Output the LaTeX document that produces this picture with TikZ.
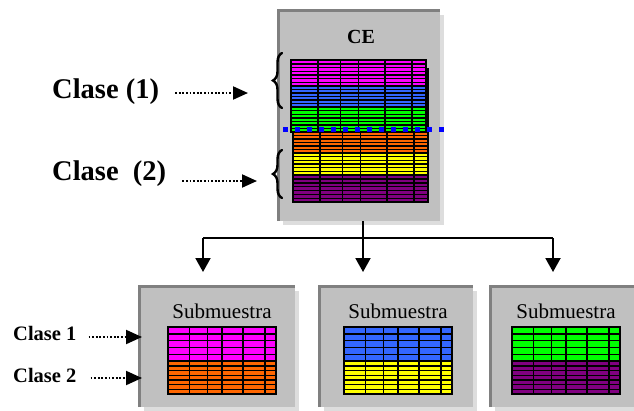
\documentclass[tikz,border=0pt]{standalone}
\usepackage{fontspec}
\setmainfont{Liberation Serif}
\usetikzlibrary{arrows.meta,decorations.pathreplacing,shadows}

\definecolor{panelgray}{HTML}{C0C0C0}
\definecolor{rimgray}{HTML}{808080}
\definecolor{shadegray}{HTML}{DDDDDD}
\definecolor{cmag}{HTML}{FF00FF}
\definecolor{cblue}{HTML}{3366FF}
\definecolor{cgreen}{HTML}{00FF00}
\definecolor{corange}{HTML}{FF6600}
\definecolor{cyellow}{HTML}{FFFF00}
\definecolor{cpurple}{HTML}{800080}
\definecolor{dotblue}{HTML}{0000FF}

% one coloured band of thin stripes: x1, y1, x2, y2, colour, number of stripes
\newcommand{\stripeband}[6]{%
  \fill[black] (#1,#2) rectangle (#3,#4);
  \pgfmathsetmacro{\bandstep}{(#4-#2)/#6}
  \foreach \k in {1,...,#6}{
    \fill[#5] (#1,{#2+(\k-1)*\bandstep+0.8}) rectangle (#3,{#2+\k*\bandstep-0.6});
  }
}
% column rules and outer frame of a table: x1, y1, x2, y2
\newcommand{\gridframe}[4]{%
  \foreach \f in {0.2,0.367,0.5,0.696,0.897}{
    \draw[black, line width=1.6pt] ({#1+\f*(#3-#1)},#2) -- ({#1+\f*(#3-#1)},#4);
  }
  \draw[black, line width=1.6pt] (#1,#2) rectangle (#3,#4);
}

\tikzset{
  panel/.style={fill=panelgray, draw=none, inner sep=0pt,
    drop shadow={shadow xshift=4pt, shadow yshift=-4pt, fill=shadegray, opacity=1}},
  rim/.style={rimgray, line width=3pt},
  bigclass/.style={font=\bfseries\fontsize{28.5}{30}\selectfont, inner sep=0pt, anchor=base west},
  smallclass/.style={font=\bfseries\fontsize{20.5}{23}\selectfont, inner sep=0pt, anchor=base west},
  subtitle/.style={font=\fontsize{21}{24}\selectfont, inner sep=0pt, anchor=base},
  dotarrow/.style={black, line width=2pt, dash pattern=on 1.8pt off 1.8pt,
    -{Triangle[length=15pt,width=13pt]}},
  treeline/.style={black, line width=2pt},
  treearrow/.style={treeline, -{Triangle[length=14pt,width=15pt]}},
  classbrace/.style={decorate, decoration={brace, amplitude=9pt}, line width=2.4pt, line cap=round},
  cutline/.style={dotblue, line width=5pt, dash pattern=on 5pt off 7pt}
}

\begin{document}
\begin{tikzpicture}[x=1pt, y=-1pt]
\useasboundingbox (0,0) rectangle (634,410);
\clip (0,0) rectangle (634,410);

% ---------- population box ----------
\node[panel, minimum width=161pt, minimum height=210pt] (ce) at (359.5,116) {};
\draw[rim] (ce.south west) -- (ce.north west) -- (ce.north east);
\node[font=\bfseries\fontsize{20}{22}\selectfont, inner sep=0pt, anchor=base] (cetitle) at (361,43) {CE};

% upper group of strata
\draw[black, line width=1.5pt] (428,68) -- (428,132);
\stripeband{291}{60}{426}{86}{cmag}{7}
\stripeband{291}{86}{426}{107}{cblue}{6}
\stripeband{291}{107}{426}{132}{cgreen}{7}
\gridframe{291}{60}{426}{132}
% lower group of strata
\stripeband{293}{132}{428}{153}{corange}{6}
\stripeband{293}{153}{428}{175}{cyellow}{6}
\stripeband{293}{175}{428}{202}{cpurple}{7}
\gridframe{293}{132}{428}{202}

% dividing line between the two classes
\coordinate (cutw) at (283,129.5);
\coordinate (cute) at (447,129.5);
\draw[cutline] (cutw) -- (cute);

% braces
\coordinate (b1lo) at (282,108);
\coordinate (b1hi) at (282,53);
\coordinate (b2lo) at (282,198);
\coordinate (b2hi) at (282,150);
\draw[classbrace] (b1lo) -- (b1hi);
\draw[classbrace] (b2lo) -- (b2hi);

% class labels
\node[bigclass] (c1) at (52,98) {Clase (1)};
\node[bigclass] (c2) at (52,180) {Clase\ \ (2)};
\coordinate (tip1) at (248,93);
\coordinate (tip2) at (257,181);
\draw[dotarrow, shorten <=16pt] (c1.east |- tip1) -- (tip1);
\draw[dotarrow, shorten <=16pt] (c2.east |- tip2) -- (tip2);

% ---------- subsamples ----------
\node[panel, minimum width=155pt, minimum height=120pt] (s1) at (217.5,347) {};
\node[panel, minimum width=153pt, minimum height=120pt] (s2) at (396.5,347) {};
\node[panel, minimum width=154pt, minimum height=120pt] (s3) at (568,347) {};
\foreach \s in {s1,s2,s3}{
  \draw[rim] (\s.south west) -- (\s.north west) -- (\s.north east);
}
\node[subtitle] (s1t) at (222,318) {Submuestra};
\node[subtitle] (s2t) at (398,318) {Submuestra};
\node[subtitle] (s3t) at (566,318) {Submuestra};

\stripeband{168}{327}{276}{361}{cmag}{5}
\stripeband{168}{361}{276}{394}{corange}{7}
\gridframe{168}{327}{276}{394}

\stripeband{344}{327}{452}{361}{cblue}{5}
\stripeband{344}{361}{452}{394}{cyellow}{7}
\gridframe{344}{327}{452}{394}

\stripeband{512}{327}{620}{361}{cgreen}{5}
\stripeband{512}{361}{620}{394}{cpurple}{7}
\gridframe{512}{327}{620}{394}

% ---------- tree connector ----------
\coordinate (j1) at (203,238);
\coordinate (j2) at (363,238);
\coordinate (j3) at (553,238);
\coordinate (t1) at (203,272);
\coordinate (t2) at (363,272);
\coordinate (t3) at (553,272);
\draw[treeline] (j1) -- (j3);
\draw[treearrow] (ce.south -| t2) -- (t2);
\draw[treearrow] (j1) -- (t1);
\draw[treearrow] (j3) -- (t3);

% ---------- subsample class labels ----------
\node[smallclass] (k1) at (13,340) {Clase 1};
\node[smallclass] (k2) at (13,382) {Clase 2};
\coordinate (kt1) at (142,337);
\coordinate (kt2) at (142,378);
\draw[dotarrow, -{Triangle[length=16pt,width=14pt]}, shorten <=12pt] (k1.east |- kt1) -- (kt1);
\draw[dotarrow, -{Triangle[length=16pt,width=14pt]}, shorten <=14pt] (k2.east |- kt2) -- (kt2);
\end{tikzpicture}
\end{document}
